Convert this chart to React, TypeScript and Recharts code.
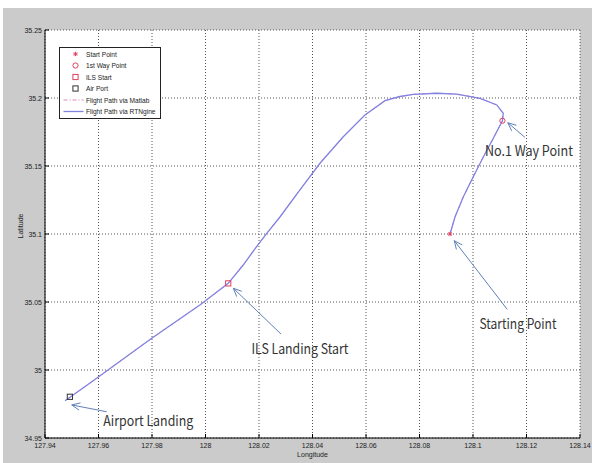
import {
  CartesianGrid,
  ComposedChart,
  Label,
  Legend,
  Line,
  ReferenceDot,
  ReferenceLine,
  Scatter,
  XAxis,
  YAxis,
} from 'recharts';

// Flight path, from the start point round the way point down to the runway
const pathLon = [
  128.0914, 128.0933, 128.0964, 128.1001, 128.1039, 128.1076, 128.111, 128.1113, 128.1089,
  128.1026, 128.0939, 128.0864, 128.0777, 128.0727, 128.0671, 128.0596, 128.0515, 128.0428,
  128.0353, 128.0279, 128.0229, 128.0191, 128.0141, 128.0085, 127.9979, 127.9799, 127.9593,
  127.9475,
];
const pathLat = [
  35.1, 35.1127, 35.1274, 35.1421, 35.1568, 35.1704, 35.1833, 35.1888, 35.1949, 35.1998,
  35.2029, 35.2035, 35.2027, 35.2011, 35.198, 35.1875, 35.1715, 35.152, 35.1324, 35.1127,
  35.1005, 35.0907, 35.0772, 35.0637, 35.0478, 35.0233, 34.9939, 34.9774,
];

const startPoint = [{ lon: 128.0914, lat: 35.1 }];
const wayPoint = [{ lon: 128.111, lat: 35.1833 }];
const ilsStart = [{ lon: 128.0085, lat: 35.0637 }];
const airPort = [{ lon: 127.9493, lat: 34.9803 }];

const lonTicks = [127.94, 127.96, 127.98, 128, 128.02, 128.04, 128.06, 128.08, 128.1, 128.12, 128.14];
const latTicks = [34.95, 35, 35.05, 35.1, 35.15, 35.2, 35.25];

// callouts: text centre, arrow tail and arrow tip
const notes = [
  { text: 'No.1 Way Point', lon: 128.1209, lat: 35.1618, fromLon: 128.1194, fromLat: 35.1711, toLon: 128.113, toLat: 35.1818 },
  { text: 'Starting Point', lon: 128.1168, lat: 35.0346, fromLon: 128.1128, fromLat: 35.0446, toLon: 128.093, toLat: 35.0951 },
  { text: 'ILS Landing Start', lon: 128.0353, lat: 35.0162, fromLon: 128.0282, fromLat: 35.0265, toLon: 128.0104, toLat: 35.0601 },
  { text: 'Airport Landing', lon: 127.9786, lat: 34.9632, fromLon: 127.9631, fromLat: 34.9693, toLon: 127.95, toLat: 34.9743 },
];

const path = pathLon.map((lon, i) => ({ lon, lat: pathLat[i] }));

const FONT = '"Liberation Sans", Arial, sans-serif';
const NOTE_FONT = '"Noto Sans CJK KR", "Noto Sans", sans-serif';
const noteWidth: Record<string, number> = {
  'No.1 Way Point': 88,
  'Starting Point': 77,
  'ILS Landing Start': 97,
  'Airport Landing': 90,
};
const RED = '#e0405e';
const BLUE = '#8282e2';
const PINK = '#e08ab8';
const ARROW = '#5f80b8';

const StarMark = ({ cx, cy }: any) => (
  <g stroke={RED} strokeWidth={1}>
    <line x1={cx - 2.2} y1={cy} x2={cx + 2.2} y2={cy} />
    <line x1={cx} y1={cy - 2.2} x2={cx} y2={cy + 2.2} />
    <line x1={cx - 1.6} y1={cy - 1.6} x2={cx + 1.6} y2={cy + 1.6} />
    <line x1={cx - 1.6} y1={cy + 1.6} x2={cx + 1.6} y2={cy - 1.6} />
  </g>
);
const CircleMark = ({ cx, cy }: any) => <circle cx={cx} cy={cy} r={2.6} fill="none" stroke={RED} />;
const SquareMark = (color: string) => ({ cx, cy }: any) => (
  <rect x={cx - 2.6} y={cy - 2.6} width={5.2} height={5.2} fill="none" stroke={color} />
);

const BottomTick = ({ x, y, payload }: any) => (
  <g>
    <line x1={x} y1={y} x2={x} y2={y - 4} stroke="#000" />
    <text x={x} y={y + 7} textAnchor="middle" dominantBaseline="central" fontSize={7} fontFamily={FONT} fill="#222">
      {payload.value}
    </text>
  </g>
);
const LeftTick = ({ x, y, payload }: any) => (
  <g>
    <line x1={x} y1={y} x2={x + 4} y2={y} stroke="#000" />
    <text x={x - 3} y={y} textAnchor="end" dominantBaseline="central" fontSize={7} fontFamily={FONT} fill="#222">
      {payload.value}
    </text>
  </g>
);
const TopTick = ({ x, y }: any) => <line x1={x} y1={y} x2={x} y2={y + 4} stroke="#000" />;
const RightTick = ({ x, y }: any) => <line x1={x} y1={y} x2={x - 4} y2={y} stroke="#000" />;

const Arrow = ({ x1, y1, x2, y2 }: any) => {
  const a = Math.atan2(y2 - y1, x2 - x1);
  const len = 9;
  const spread = 0.42;
  const h1 = `${x2 - len * Math.cos(a - spread)},${y2 - len * Math.sin(a - spread)}`;
  const h2 = `${x2 - len * Math.cos(a + spread)},${y2 - len * Math.sin(a + spread)}`;
  return (
    <g stroke={ARROW} strokeWidth={1} fill="none">
      <line x1={x1} y1={y1} x2={x2} y2={y2} />
      <polyline points={`${h1} ${x2},${y2} ${h2}`} />
    </g>
  );
};

const legendRows = [
  { label: 'Start Point', icon: (cx: number, cy: number) => <StarMark cx={cx} cy={cy} /> },
  { label: '1st Way Point', icon: (cx: number, cy: number) => <CircleMark cx={cx} cy={cy} /> },
  { label: 'ILS Start', icon: (cx: number, cy: number) => SquareMark(RED)({ cx, cy }) },
  { label: 'Air Port', icon: (cx: number, cy: number) => SquareMark('#333')({ cx, cy }) },
  {
    label: 'Flight Path via Matlab',
    icon: (cx: number, cy: number) => (
      <line x1={cx - 12} y1={cy} x2={cx + 8} y2={cy} stroke={PINK} strokeDasharray="4 2 1 2" />
    ),
  },
  {
    label: 'Flight Path via RTNgine',
    icon: (cx: number, cy: number) => <line x1={cx - 12} y1={cy} x2={cx + 8} y2={cy} stroke={BLUE} strokeWidth={1.3} />,
  },
];

const LegendBox = () => (
  <svg width={102} height={72} style={{ display: 'block' }}>
    <rect x={0.5} y={0.5} width={101} height={71} fill="#fff" stroke="#222" />
    {legendRows.map((r, i) => {
      const cy = 7 + i * 11.5;
      return (
        <g key={r.label}>
          {r.icon(16.5, cy)}
          <text x={27} y={cy} dominantBaseline="central" fontSize={6.6} fontFamily={FONT} fill="#222">
            {r.label}
          </text>
        </g>
      );
    })}
  </svg>
);

export default function App() {
  return (
    <div style={{ position: 'relative', width: 592, height: 463, background: '#fff' }}>
      <style>{'body{margin:0}'}</style>
      <div style={{ position: 'absolute', left: 3, top: 8, right: 0, bottom: 0, background: '#cbcbcb' }} />
      <ComposedChart
        width={592}
        height={463}
        margin={{ top: 30, right: 12, bottom: 0, left: 0 }}
        style={{ position: 'absolute', left: 0, top: 0 }}
      >
        <CartesianGrid fill="#fff" stroke="#555" strokeDasharray="1 2" />
        <XAxis
          dataKey="lon"
          type="number"
          domain={[127.94, 128.14]}
          ticks={lonTicks}
          interval={0}
          allowDataOverflow
          height={25}
          tickSize={0}
          tickMargin={0}
          tick={<BottomTick />}
          axisLine={{ stroke: '#000' }}
        >
          <Label
            content={({ viewBox }: any) => (
              <text
                x={viewBox.x + viewBox.width / 2}
                y={viewBox.y + 16}
                textAnchor="middle"
                dominantBaseline="central"
                fontSize={7}
                fontFamily={FONT}
                fill="#222"
              >
                Longitude
              </text>
            )}
          />
        </XAxis>
        <XAxis
          xAxisId="top"
          orientation="top"
          dataKey="lon"
          type="number"
          domain={[127.94, 128.14]}
          ticks={lonTicks}
          interval={0}
          allowDataOverflow
          height={0}
          tickSize={0}
          tickMargin={0}
          tick={<TopTick />}
          axisLine={{ stroke: '#000' }}
        >
          <Label
            content={({ viewBox }: any) => (
              <text
                x={viewBox.x + viewBox.width / 2}
                y={viewBox.y - 10}
                textAnchor="middle"
                dominantBaseline="central"
                fontSize={6.6}
                fontFamily={FONT}
                fill="#222"
              >
                Intrument Landing System via RTNgine &amp; Matlab
              </text>
            )}
          />
        </XAxis>
        <YAxis
          dataKey="lat"
          type="number"
          domain={[34.95, 35.25]}
          ticks={latTicks}
          interval={0}
          allowDataOverflow
          width={45}
          tickSize={0}
          tickMargin={0}
          tick={<LeftTick />}
          axisLine={{ stroke: '#000' }}
        >
          <Label
            content={({ viewBox }: any) => {
              const cx = viewBox.x + 20;
              const cy = viewBox.y + viewBox.height / 2 - 8;
              return (
                <text
                  x={cx}
                  y={cy}
                  transform={`rotate(-90 ${cx} ${cy})`}
                  textAnchor="middle"
                  dominantBaseline="central"
                  fontSize={7}
                  fontFamily={FONT}
                  fill="#222"
                >
                  Latitude
                </text>
              );
            }}
          />
        </YAxis>
        <YAxis
          yAxisId="right"
          orientation="right"
          dataKey="lat"
          type="number"
          domain={[34.95, 35.25]}
          ticks={latTicks}
          interval={0}
          allowDataOverflow
          width={0}
          tickSize={0}
          tickMargin={0}
          tick={<RightTick />}
          axisLine={{ stroke: '#000' }}
        />
        <Legend
          layout="vertical"
          align="center"
          verticalAlign="middle"
          wrapperStyle={{ left: 59, top: 47, width: 102, height: 72 }}
          content={<LegendBox />}
        />
        <Line
          data={path}
          dataKey="lat"
          type="linear"
          stroke={PINK}
          strokeWidth={1}
          strokeDasharray="4 2 1 2"
          dot={false}
          isAnimationActive={false}
        />
        <Line
          data={path}
          dataKey="lat"
          type="linear"
          stroke={BLUE}
          strokeWidth={1.3}
          dot={false}
          isAnimationActive={false}
        />
        <Scatter data={startPoint} shape={<StarMark />} isAnimationActive={false} />
        <Scatter data={wayPoint} shape={<CircleMark />} isAnimationActive={false} />
        <Scatter data={ilsStart} shape={SquareMark(RED)} isAnimationActive={false} />
        <Scatter data={airPort} shape={SquareMark('#333')} isAnimationActive={false} />
        {notes.map((n) => (
          <ReferenceLine
            key={`arrow-${n.text}`}
            segment={[
              { x: n.fromLon, y: n.fromLat },
              { x: n.toLon, y: n.toLat },
            ]}
            shape={<Arrow />}
          />
        ))}
        {notes.map((n) => (
          <ReferenceDot
            key={`text-${n.text}`}
            x={n.lon}
            y={n.lat}
            r={0}
            shape={({ cx, cy }: any) => (
              <text
                x={cx}
                y={cy}
                textAnchor="middle"
                dominantBaseline="central"
                fontSize={14}
                fontFamily={NOTE_FONT}
                fill="#333"
                textLength={noteWidth[n.text]}
                lengthAdjust="spacingAndGlyphs"
              >
                {n.text}
              </text>
            )}
          />
        ))}
      </ComposedChart>
    </div>
  );
}
